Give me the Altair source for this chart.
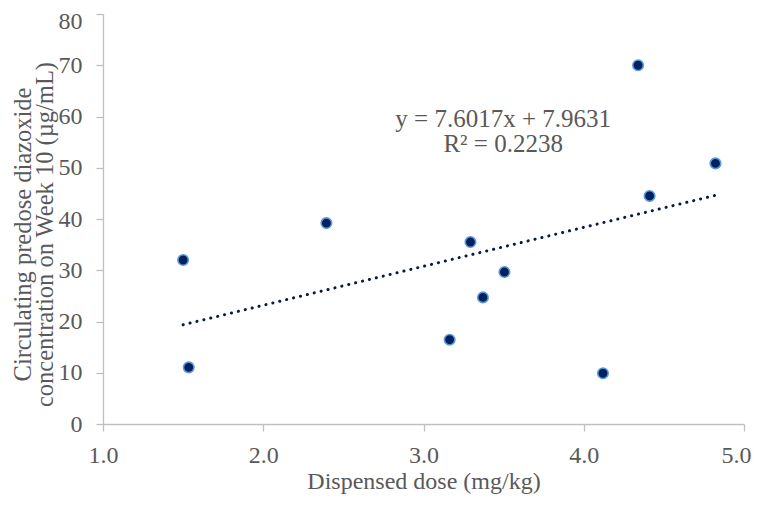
import altair as alt
import pandas as pd

dose = [1.50, 1.535, 2.394, 3.163, 3.293, 3.371, 3.505, 4.12, 4.339, 4.411, 4.822]
conc = [32.0, 11.05, 39.2, 16.45, 35.5, 24.7, 29.65, 9.9, 70.0, 44.5, 50.85]

slope = 7.6017
intercept = 7.9631
trend_x = [min(dose), max(dose)]
trend_y = [slope * v + intercept for v in trend_x]

annot_text = ["y = 7.6017x + 7.9631", "R² = 0.2238"]
annot_x = [3.497, 3.497]
annot_y = [59.6, 54.6]

x_ticks = [1.0, 2.0, 3.0, 4.0, 5.0]
y_ticks = [0, 10, 20, 30, 40, 50, 60, 70, 80]

pts = pd.DataFrame({"dose": dose, "conc": conc})
trend = pd.DataFrame({"dose": trend_x, "conc": trend_y})
annot = pd.DataFrame({"dose": annot_x, "conc": annot_y, "t": annot_text})

FONT = "Liberation Serif"
GREY = "#595959"

xs = alt.Scale(domain=[1.0, 5.0], nice=False)
ys = alt.Scale(domain=[0, 80], nice=False)

xaxis = alt.Axis(values=x_ticks, format=".1f", grid=False, title="Dispensed dose (mg/kg)",
                 tickSize=7, labelPadding=12, titlePadding=2, titleFontSize=24,
                 labelFlush=False,
                 labelAlign={"condition": {"test": "datum.value == 5", "value": "right"},
                             "value": "center"},
                 labelOffset={"condition": {"test": "datum.value == 5", "value": 7},
                              "value": 0})
yaxis = alt.Axis(values=y_ticks, format="d", grid=False,
                 title=["Circulating predose diazoxide", "concentration on Week 10 (µg/mL)"],
                 tickSize=7, labelPadding=14, titleFontSize=24.5, labelFlush=False,
                 titleX=-73, titleY=220, titleAngle=-90, titleAlign="center",
                 titleBaseline="alphabetic", titleLineHeight=22,
                 labelOffset={"condition": {"test": "datum.value == 80", "value": 7},
                              "value": 0})

base_x = alt.X("dose:Q", scale=xs, axis=xaxis)
base_y = alt.Y("conc:Q", scale=ys, axis=yaxis)

line = alt.Chart(trend).mark_line(color="#0a1747", strokeWidth=3, strokeDash=[0.1, 7],
                                  strokeCap="round").encode(x=base_x, y=base_y)

points = alt.Chart(pts).mark_point(filled=True, shape="circle", size=110, fill="#002060",
                                   stroke="#5b9bd5", strokeWidth=1.6, opacity=1).encode(
    x=base_x, y=base_y)

text = alt.Chart(annot).mark_text(font=FONT, fontSize=25, color=GREY, align="center",
                                  baseline="middle").encode(x="dose:Q", y="conc:Q", text="t:N")

chart = alt.layer(line, points, text).properties(
    width=641, height=410,
    autosize=alt.AutoSizeParams(type="none"),
    padding={"left": 95, "top": 6, "right": 8, "bottom": 70},
).configure_view(stroke=None).configure_axis(
    labelFont=FONT, titleFont=FONT, labelFontSize=24,
    labelColor=GREY, titleColor=GREY, titleFontWeight="normal",
    domainColor="#bfbfbf", tickColor="#bfbfbf", domainWidth=1.3, tickWidth=1.3,
)

chart.save("out.html", embed_options={"renderer": "svg", "actions": False})
